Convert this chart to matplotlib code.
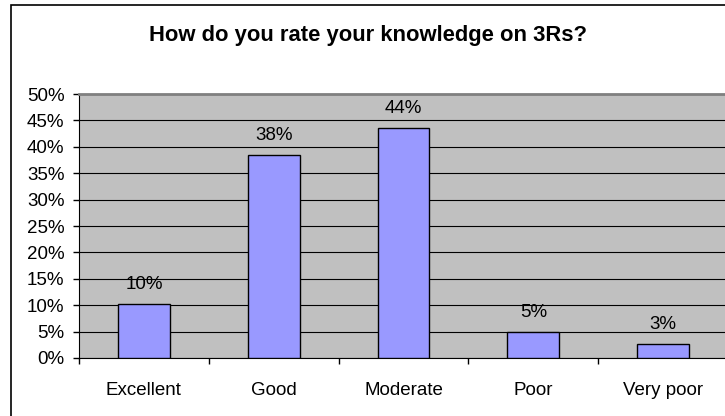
import matplotlib.pyplot as plt
from matplotlib.patches import Rectangle
from matplotlib.ticker import MultipleLocator, FuncFormatter

plt.rcParams['font.family'] = ['Liberation Sans', 'DejaVu Sans']

categories = ['Excellent', 'Good', 'Moderate', 'Poor', 'Very poor']
shares = [0.102, 0.385, 0.436, 0.05, 0.026]
title = 'How do you rate your knowledge on 3Rs?'

fig = plt.figure(figsize=(7.25, 4.16), dpi=100)
fig.patch.set_facecolor('white')

# outer chart border (runs off the right and bottom edge in the original)
fig.patches.append(Rectangle((11 / 725, -0.05), 1.0, 1 - 5 / 416 + 0.05,
                             transform=fig.transFigure, fill=False,
                             edgecolor='black', linewidth=1.2))

ax = fig.add_axes([79 / 725, 1 - 358 / 416, 649 / 725, 264 / 416])
ax.set_facecolor('#C0C0C0')

x = list(range(len(categories)))
ax.bar(x, shares, width=0.4, color='#9999FF', edgecolor='black', linewidth=1, zorder=3)

for xi, v in zip(x, shares):
    ax.annotate(f'{round(v * 100):.0f}%', (xi, v), xytext=(0, 14), textcoords='offset points',
                ha='center', va='center', fontsize=13.5)

ax.set_xlim(-0.5, len(categories) - 0.5)
ax.set_ylim(0, 0.5)
ax.yaxis.set_major_locator(MultipleLocator(0.05))
ax.yaxis.set_major_formatter(FuncFormatter(lambda v, p: f'{v * 100:.0f}%'))
ax.grid(axis='y', color='black', linewidth=0.8, zorder=1)
ax.set_axisbelow(True)

ax.set_xticks(x)
ax.set_xticklabels(categories, fontsize=13.5)
ax.tick_params(axis='x', which='major', length=0, pad=17)
ax.set_xticks([i - 0.5 for i in range(len(categories) + 1)], minor=True)
ax.tick_params(axis='x', which='minor', length=4.5, direction='out', width=1)
ax.tick_params(axis='y', length=4.5, direction='out', width=1, labelsize=13.5, pad=6)

for side in ['top', 'right']:
    ax.spines[side].set_color('#808080')
    ax.spines[side].set_linewidth(2)
ax.spines['left'].set_color('black')
ax.spines['bottom'].set_color('black')

fig.text(0.5 * (11 / 725 + 1), 1 - 35 / 416, title, ha='center', va='center',
         fontsize=15.8, fontweight='bold')

fig.savefig('out.png', dpi=100)
